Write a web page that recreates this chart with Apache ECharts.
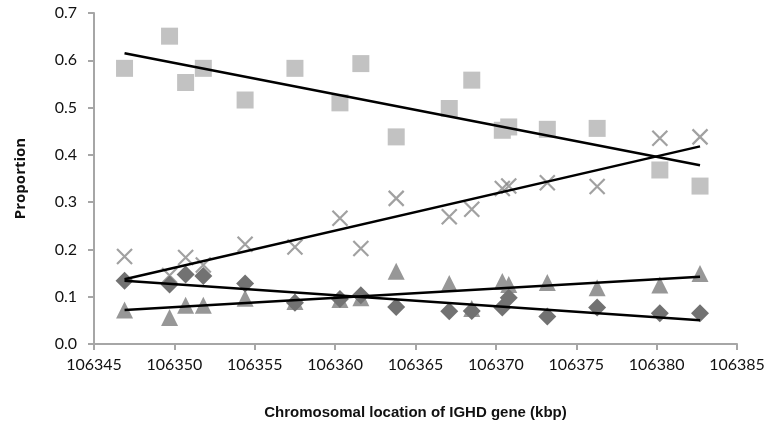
<!DOCTYPE html>
<html>
<head>
<meta charset="utf-8">
<script src="https://cdn.jsdelivr.net/npm/echarts@6/dist/echarts.min.js"></script>
<style>html,body{margin:0;padding:0;background:#fff}#c{width:768px;height:430px}</style>
</head>
<body>
<div id="c"></div>
<script>
// Gene locations (kbp)
var locations = [106346.9, 106349.7, 106350.7, 106351.8, 106354.4, 106357.5, 106360.3, 106361.6, 106363.8, 106367.1, 106368.5, 106370.4, 106370.8, 106373.2, 106376.3, 106380.2, 106382.7];
var squareVals  = [0.583, 0.651, 0.553, 0.583, 0.516, 0.583, 0.510, 0.593, 0.438, 0.498, 0.558, 0.452, 0.459, 0.454, 0.456, 0.368, 0.334];
var crossVals   = [0.185, 0.145, 0.183, 0.167, 0.211, 0.205, 0.266, 0.202, 0.308, 0.269, 0.285, 0.329, 0.334, 0.341, 0.333, 0.435, 0.438];
var diamondVals = [0.134, 0.126, 0.147, 0.144, 0.128, 0.087, 0.095, 0.103, 0.078, 0.069, 0.070, 0.077, 0.098, 0.058, 0.077, 0.065, 0.065];
var triangleVals= [0.072, 0.056, 0.082, 0.082, 0.097, 0.090, 0.094, 0.098, 0.154, 0.128, 0.075, 0.132, 0.126, 0.130, 0.119, 0.125, 0.149];
// Trend line endpoints
var trendX = [106346.9, 106382.7];
var squareTrend   = [0.615, 0.378];
var crossTrend    = [0.137, 0.418];
var diamondTrend  = [0.134, 0.050];
var triangleTrend = [0.072, 0.142];
var xTicks = [106345, 106350, 106355, 106360, 106365, 106370, 106375, 106380, 106385];

function pairs(xs, ys){ return xs.map(function(x,i){ return [x, ys[i]]; }); }

var chart = echarts.init(document.getElementById('c'), null, {renderer:'canvas'});
var axisCol = '#a6a6a6';
var lblFont = 'Lato';
function scatter(vals, symbol, size, color, z, stroke){
  var s = {type:'scatter', data: pairs(locations, vals), symbol: symbol, symbolSize: size, z: z,
    itemStyle: {color: color, opacity: 1}};
  if (stroke){ s.itemStyle = {color:'transparent', borderColor: color, borderWidth: 2.2}; }
  return s;
}
function trend(ys){
  return {type:'line', data: pairs(trendX, ys), symbol:'none', z: 10,
    lineStyle:{color:'#000', width:2.5}, silent:true};
}
chart.setOption({
  animation:false,
  grid:{left:94, right:31, top:13, bottom:86},
  xAxis:{type:'value', min:106345, max:106385, interval:5,
    axisLine:{lineStyle:{color:axisCol, width:2}},
    axisTick:{show:true, length:6, lineStyle:{color:axisCol, width:2}},
    splitLine:{show:false},
    axisLabel:{color:'#111', fontFamily:lblFont, fontSize:16, margin:13,
      formatter:function(v){ return xTicks.indexOf(v) >= 0 ? String(v) : ''; }},
    name:'Chromosomal location of IGHD gene (kbp)', nameLocation:'middle', nameGap:61,
    nameTextStyle:{fontFamily:'Liberation Sans', fontWeight:'bold', fontSize:15, color:'#111'}
  },
  yAxis:{type:'value', min:0, max:0.7, interval:0.1,
    axisLine:{show:true, lineStyle:{color:axisCol, width:2}},
    axisTick:{show:true, length:6, lineStyle:{color:axisCol, width:2}},
    splitLine:{show:false},
    axisLabel:{color:'#111', fontFamily:lblFont, fontSize:16, margin:17,
      formatter:function(v){ return v.toFixed(1); }},
    name:'Proportion', nameLocation:'middle', nameGap:66,
    nameTextStyle:{fontFamily:'Open Sans', fontWeight:'bold', fontSize:15, color:'#111'}
  },
  series:[
    scatter(squareVals, 'rect', 17, '#c2c2c2', 2),
    scatter(crossVals, 'path://M0,0L10,10M10,0L0,10', 15, '#8a8a8a', 3, true),
    scatter(triangleVals, 'triangle', 17, '#979797', 4),
    scatter(diamondVals, 'diamond', 18, '#727272', 5),
    trend(squareTrend), trend(crossTrend), trend(diamondTrend), trend(triangleTrend)
  ]
});
</script>
</body>
</html>
